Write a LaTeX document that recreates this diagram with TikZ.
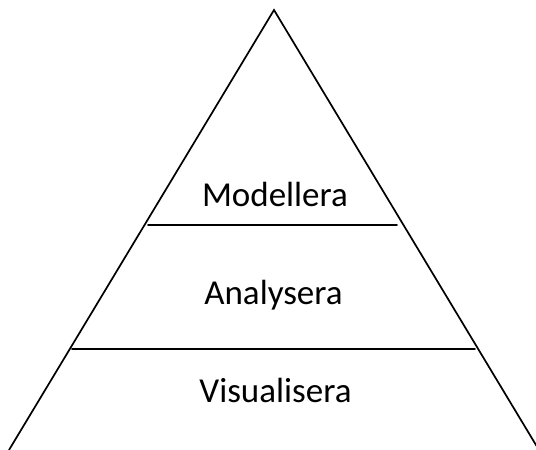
\documentclass[tikz,border=0pt]{standalone}
\usepackage{fontspec}
\setmainfont{Carlito}
\begin{document}
\begin{tikzpicture}[x=1pt,y=1pt,
    side/.style={line width=1.7pt,line cap=round},
    level/.style={font=\fontsize{35}{40}\selectfont,anchor=base,inner sep=0pt}]
    \useasboundingbox (0,0) rectangle (536,450);

    % pyramid outline, open at the bottom
    \coordinate (top) at (274,440);
    \coordinate (bl) at (9,0);
    \coordinate (br) at (539,0);
    \draw[side] (bl) -- (top) -- (br);

    % dividing lines
    \coordinate (m1) at (148,225);
    \coordinate (m2) at (397,225);
    \coordinate (a1) at (72,101);
    \coordinate (a2) at (475,101);
    \draw[side] (m1) -- (m2);
    \draw[side] (a1) -- (a2);

    \node[level] (modellera) at (275,243) {Modellera};
    \node[level] (analysera) at (273.5,145) {Analysera};
    \node[level] (visualisera) at (275.5,47) {Visualisera};
\end{tikzpicture}
\end{document}
